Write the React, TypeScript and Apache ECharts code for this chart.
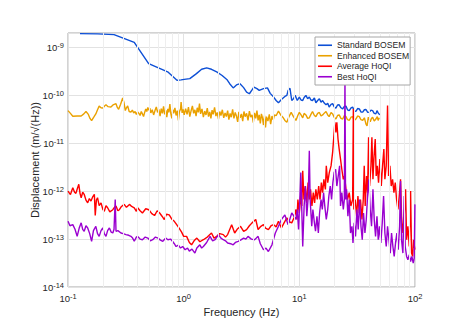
import React, { useEffect, useRef } from 'react';
import * as echarts from 'echarts';

// [frequency (Hz), displacement (m/sqrt(Hz))]
const standardBosem: [number, number][] = [
  [0.127, 1.94e-9], [0.18, 1.92e-9], [0.25, 1.85e-9], [0.374, 1.27e-9], [0.498, 4.6e-10],
  [0.727, 3.1e-10], [0.875, 2.06e-10], [0.95, 2.1e-10], [1.01, 2.15e-10], [1.13, 2.23e-10],
  [1.29, 2.84e-10], [1.43, 3.5e-10], [1.58, 3.74e-10], [1.74, 3.5e-10], [1.93, 3.1e-10],
  [2.15, 2.6e-10], [2.36, 2.15e-10], [2.5, 1.75e-10], [2.68, 1.43e-10], [2.86, 1.65e-10],
  [3.07, 1.75e-10], [3.3, 1.45e-10], [3.5, 1.17e-10], [3.7, 1.08e-10], [3.9, 1.3e-10],
  [4.05, 1.49e-10], [4.3, 1.38e-10], [4.5, 1.27e-10], [4.9, 1.38e-10], [5.3, 1.43e-10],
  [5.6, 1.1e-10], [6.0, 9.2e-11], [6.3, 7.8e-11], [6.6, 7.0e-11], [7.0, 8.2e-11],
  [7.5, 9.5e-11], [7.8, 1.0e-10], [8.0, 1.27e-10], [8.3, 1.4e-10], [8.6, 7.8e-11],
  [8.9, 8.5e-11], [9.2, 1.0e-10], [9.6, 7.8e-11], [10.0, 9.2e-11], [10.35, 8.0e-11],
  [10.7, 7.8e-11], [11.0, 9.0e-11], [11.4, 9.96e-11], [11.8, 8.5e-11], [12.2, 9.2e-11],
  [12.6, 8.0e-11], [13.0, 7.8e-11], [13.5, 8.8e-11], [13.9, 7.0e-11], [14.4, 7.8e-11],
  [14.9, 8.5e-11], [15.4, 7.2e-11], [15.9, 7.8e-11], [16.5, 6.8e-11], [17.0, 6.35e-11],
  [17.6, 6.8e-11], [18.1, 5.7e-11], [18.8, 6.5e-11], [19.4, 6.7e-11], [20.0, 5.8e-11],
  [20.7, 5.4e-11], [21.4, 6.3e-11], [22.1, 6.35e-11], [22.9, 5.5e-11], [23.7, 5.2e-11],
  [24.5, 5.9e-11], [25.3, 5.96e-11], [26.1, 5.0e-11], [27.0, 4.8e-11], [28.0, 5.5e-11],
  [28.9, 5.7e-11], [29.8, 4.8e-11], [30.8, 4.6e-11], [31.9, 5.3e-11], [33.0, 5.2e-11],
  [34.1, 4.5e-11], [35.3, 4.46e-11], [36.5, 5.0e-11], [37.7, 5.06e-11], [39.0, 4.4e-11],
  [40.2, 4.46e-11], [41.6, 4.9e-11], [43.0, 4.8e-11], [44.4, 4.2e-11], [45.9, 4.1e-11],
  [46.9, 4.8e-11], [48.0, 4.3e-11], [49.6, 3.9e-11],
];

const enhancedBosem: [number, number][] = [
  [0.1, 4.8e-11], [0.105, 4.2e-11], [0.11, 3.67e-11], [0.12, 3.7e-11], [0.13, 3.7e-11],
  [0.137, 4.1e-11], [0.143, 4.6e-11], [0.15, 4.0e-11], [0.155, 3.3e-11], [0.16, 2.97e-11],
  [0.167, 3.5e-11], [0.174, 4.1e-11], [0.18, 5.0e-11], [0.186, 5.96e-11], [0.193, 5.5e-11],
  [0.2, 5.4e-11], [0.207, 6.0e-11], [0.213, 6.35e-11], [0.222, 5.8e-11], [0.235, 5.7e-11],
  [0.245, 6.3e-11], [0.26, 6.7e-11], [0.267, 5.6e-11], [0.274, 5.1e-11], [0.285, 6.5e-11],
  [0.297, 8.8e-11], [0.305, 7.0e-11], [0.313, 4.8e-11], [0.32, 5.5e-11], [0.328, 6.0e-11],
  [0.338, 4.6e-11], [0.35, 4.45e-11], [0.36, 4.9e-11], [0.37, 4.3e-11], [0.38, 4.6e-11],
  [0.39, 4.0e-11], [0.4, 4.5e-11], [0.41, 4.2e-11], [0.42, 3.8e-11], [0.43, 4.6e-11],
  [0.44, 4.1e-11], [0.45, 3.6e-11], [0.46, 4.4e-11], [0.47, 5.2e-11], [0.48, 4.6e-11],
  [0.49, 5.6e-11], [0.5, 4.9e-11], [0.51, 5.4e-11], [0.52, 4.3e-11], [0.535, 5.0e-11],
  [0.55, 3.9e-11], [0.565, 4.8e-11], [0.58, 5.7e-11], [0.595, 4.4e-11], [0.61, 5.1e-11],
  [0.625, 3.7e-11], [0.64, 5.3e-11], [0.655, 4.2e-11], [0.67, 5.9e-11], [0.685, 4.0e-11],
  [0.7, 4.9e-11], [0.715, 3.5e-11], [0.73, 5.2e-11], [0.745, 4.4e-11], [0.76, 6.6e-11],
  [0.775, 4.1e-11], [0.79, 3.3e-11], [0.805, 5.0e-11], [0.82, 4.2e-11], [0.84, 5.5e-11],
  [0.86, 3.8e-11], [0.88, 4.8e-11], [0.9, 3.0e-11], [0.92, 4.6e-11], [0.94, 5.2e-11],
  [0.95, 7.2e-11], [0.97, 4.3e-11], [0.99, 5.1e-11], [1.01, 3.9e-11], [1.04, 5.3e-11],
  [1.07, 4.0e-11], [1.1, 5.7e-11], [1.13, 3.6e-11], [1.16, 4.8e-11], [1.19, 6.0e-11],
  [1.22, 4.2e-11], [1.25, 5.0e-11], [1.28, 3.7e-11], [1.31, 5.5e-11], [1.34, 4.4e-11],
  [1.37, 6.7e-11], [1.4, 4.1e-11], [1.44, 5.2e-11], [1.48, 3.5e-11], [1.52, 4.7e-11],
  [1.56, 3.9e-11], [1.6, 5.4e-11], [1.64, 3.6e-11], [1.68, 4.5e-11], [1.72, 3.3e-11],
  [1.76, 4.9e-11], [1.8, 4.0e-11], [1.85, 5.6e-11], [1.9, 3.7e-11], [1.95, 4.4e-11],
  [2.0, 3.2e-11], [2.05, 4.6e-11], [2.1, 3.8e-11], [2.16, 5.0e-11], [2.22, 3.4e-11],
  [2.28, 4.3e-11], [2.34, 3.6e-11], [2.4, 4.8e-11], [2.46, 3.1e-11], [2.52, 4.2e-11],
  [2.58, 3.5e-11], [2.65, 5.1e-11], [2.72, 3.3e-11], [2.79, 4.4e-11], [2.86, 3.7e-11],
  [2.93, 2.8e-11], [3.0, 4.5e-11], [3.08, 3.4e-11], [3.16, 4.1e-11], [3.24, 2.9e-11],
  [3.32, 4.6e-11], [3.4, 3.6e-11], [3.5, 4.2e-11], [3.6, 3.0e-11], [3.7, 4.7e-11],
  [3.8, 3.5e-11], [3.9, 3.9e-11], [4.0, 2.7e-11], [4.1, 4.3e-11], [4.2, 3.3e-11],
  [4.3, 4.8e-11], [4.4, 3.0e-11], [4.5, 3.9e-11], [4.6, 2.6e-11], [4.7, 4.1e-11],
  [4.8, 3.4e-11], [4.9, 2.4e-11], [5.0, 3.8e-11], [5.1, 2.15e-11], [5.2, 3.6e-11],
  [5.35, 2.9e-11], [5.5, 4.0e-11], [5.65, 2.5e-11], [5.8, 3.7e-11], [5.95, 3.1e-11],
  [6.1, 3.9e-11], [6.3, 3.75e-11], [6.6, 4.7e-11], [6.9, 3.9e-11], [7.2, 3.5e-11],
  [7.5, 3.0e-11], [7.8, 2.75e-11], [8.1, 3.5e-11], [8.5, 4.4e-11], [8.9, 3.6e-11],
  [9.35, 3.0e-11], [9.7, 3.8e-11], [10.0, 4.4e-11], [10.35, 3.9e-11], [10.7, 3.4e-11],
  [11.0, 4.2e-11], [11.4, 3.9e-11], [11.8, 3.3e-11], [12.2, 3.4e-11], [12.6, 4.0e-11],
  [13.0, 4.6e-11], [13.5, 3.8e-11], [13.9, 3.6e-11], [14.4, 4.2e-11], [14.9, 4.4e-11],
  [15.4, 3.7e-11], [15.9, 3.9e-11], [16.5, 4.3e-11], [17.0, 4.6e-11], [17.6, 3.9e-11],
  [18.1, 3.6e-11], [18.8, 4.4e-11], [19.4, 4.1e-11], [20.0, 3.5e-11], [20.7, 3.2e-11],
  [21.4, 3.8e-11], [22.1, 3.9e-11], [22.9, 3.3e-11], [23.7, 3.2e-11], [24.5, 3.8e-11],
  [25.3, 3.6e-11], [26.1, 3.1e-11], [27.0, 3.0e-11], [28.0, 3.5e-11], [28.9, 3.6e-11],
  [29.8, 3.0e-11], [30.8, 3.2e-11], [31.9, 3.7e-11], [33.0, 3.6e-11], [34.1, 3.1e-11],
  [35.3, 3.0e-11], [36.5, 3.4e-11], [37.7, 2.5e-11], [38.5, 2.3e-11], [39.5, 3.5e-11],
  [41.0, 2.8e-11], [42.0, 3.3e-11], [43.0, 3.5e-11], [44.4, 2.9e-11], [45.9, 3.2e-11],
  [47.2, 3.6e-11], [48.0, 3.0e-11], [49.1, 3.4e-11],
];

const averageHoQI: [number, number][] = [
  [0.1, 1.0e-12], [0.105, 8.5e-13], [0.11, 1.18e-12], [0.114, 9.5e-13], [0.117, 9.0e-13],
  [0.12, 1.1e-12], [0.124, 1.39e-12], [0.127, 9.0e-13], [0.13, 7.3e-13], [0.134, 9.5e-13],
  [0.138, 8.6e-13], [0.143, 6.5e-13], [0.148, 5.7e-13], [0.153, 7.0e-13], [0.158, 6.2e-13],
  [0.163, 7.5e-13], [0.169, 8.6e-13], [0.172, 3.1e-13], [0.176, 6.5e-13], [0.18, 7.3e-13],
  [0.186, 5.0e-13], [0.193, 5.7e-13], [0.2, 4.2e-13], [0.206, 3.8e-13], [0.213, 5.0e-13],
  [0.22, 4.5e-13], [0.23, 3.7e-13], [0.244, 4.1e-13], [0.252, 4.6e-13], [0.26, 4.9e-13],
  [0.27, 3.9e-13], [0.278, 4.1e-13], [0.29, 4.8e-13], [0.306, 5.3e-13], [0.32, 4.6e-13],
  [0.34, 5.3e-13], [0.355, 4.8e-13], [0.374, 4.5e-13], [0.39, 3.8e-13], [0.4, 4.5e-13],
  [0.42, 3.9e-13], [0.44, 3.5e-13], [0.47, 4.3e-13], [0.5, 4.1e-13], [0.53, 3.4e-13],
  [0.56, 3.1e-13], [0.59, 3.9e-13], [0.62, 3.5e-13], [0.65, 3.0e-13], [0.68, 2.56e-13],
  [0.71, 3.3e-13], [0.75, 3.2e-13], [0.79, 2.6e-13], [0.83, 2.35e-13], [0.87, 2.0e-13],
  [0.91, 1.71e-13], [0.96, 1.4e-13], [1.0, 1.14e-13], [1.06, 1.14e-13], [1.12, 8.5e-14],
  [1.17, 7.6e-14], [1.23, 9.2e-14], [1.3, 1.05e-13], [1.38, 8.8e-14], [1.48, 9.7e-14],
  [1.6, 1.1e-13], [1.74, 1.34e-13], [1.83, 1.05e-13], [1.93, 1.14e-13], [2.05, 1.3e-13],
  [2.2, 1.24e-13], [2.3, 1.1e-13], [2.4, 1.24e-13], [2.6, 2.0e-13], [2.76, 1.34e-13],
  [2.9, 1.6e-13], [3.1, 1.85e-13], [3.3, 1.45e-13], [3.5, 1.58e-13], [3.7, 1.9e-13],
  [3.9, 2.18e-13], [4.2, 2.56e-13], [4.4, 1.58e-13], [4.65, 1.85e-13], [4.9, 2.0e-13],
  [5.1, 1.7e-13], [5.4, 1.58e-13], [5.7, 1.9e-13], [6.0, 2.0e-13], [6.3, 1.8e-13],
  [6.6, 2.35e-13], [7.0, 1.71e-13], [7.4, 2.2e-13], [7.8, 2.77e-13], [8.2, 2.3e-13],
  [8.6, 2.18e-13], [9.0, 2.8e-13], [9.2, 3.5e-13], [9.35, 4.15e-13], [9.53, 2.56e-13],
  [9.72, 6.7e-13], [10.0, 3.5e-13], [10.26, 7.9e-13], [10.5, 4.9e-13], [10.7, 2.65e-12],
  [10.96, 6.7e-13], [11.25, 1.28e-12], [11.6, 5.7e-13], [11.9, 1.51e-12], [12.2, 6.7e-13],
  [12.5, 1.09e-12], [12.85, 4.9e-13], [13.2, 9.3e-13], [13.55, 5.7e-13], [13.9, 1.09e-12],
  [14.3, 6.7e-13], [14.7, 1.28e-12], [15.1, 6.7e-13], [15.5, 1.51e-12], [15.9, 9.3e-13],
  [16.3, 1.77e-12], [16.8, 1.09e-12], [17.1, 3.37e-12], [17.6, 1.51e-12], [18.15, 2.44e-12],
  [18.8, 3.37e-12], [19.4, 6.43e-12], [19.9, 1.44e-11], [20.3, 2.75e-11], [20.7, 1.69e-11],
  [21.1, 2.75e-11], [21.6, 1.22e-11], [22.1, 7.55e-12], [22.7, 4.66e-12], [23.3, 2.87e-12],
  [24.0, 1.77e-12], [24.6, 2.08e-12], [25.3, 1.09e-12], [26.1, 6.7e-13], [27.0, 9.3e-13],
  [27.9, 4.9e-13], [28.9, 6.7e-13], [29.3, 5.2e-11], [29.6, 4.15e-13], [30.4, 6.7e-13],
  [31.3, 3.0e-13], [32.1, 7.9e-13], [33.0, 3.5e-13], [33.8, 6.7e-13], [34.8, 2.56e-13],
  [35.7, 6.7e-13], [36.4, 3.37e-12], [37.1, 4.9e-13], [38.1, 2.08e-12], [38.9, 9.3e-13],
  [39.7, 1.33e-11], [40.5, 1.28e-12], [41.6, 3.37e-12], [42.4, 1.33e-11], [43.3, 1.77e-12],
  [44.1, 4.66e-12], [45.3, 1.22e-11], [46.2, 2.08e-12], [47.2, 3.37e-12], [48.4, 1.51e-12],
  [49.7, 4.66e-12], [51.1, 1.28e-12], [52.4, 3.37e-12], [53.8, 7.55e-12], [54.9, 1.77e-12],
  [56.4, 3.37e-12], [57.9, 6.1e-11], [59.1, 2.08e-12], [60.7, 3.37e-12], [62.3, 1.28e-12],
  [64.0, 1.77e-12], [65.7, 9.3e-13], [67.5, 1.51e-12], [69.3, 6.7e-13], [71.2, 4.15e-13],
  [73.1, 7.9e-13], [75.0, 1.77e-12], [76.5, 3.0e-13], [78.6, 1.34e-13], [80.7, 3.0e-13],
  [82.9, 1.09e-12], [84.6, 9.7e-14], [86.8, 1.85e-13], [89.2, 7.0e-14], [91.6, 1.01e-12],
  [93.4, 5.1e-14], [95.3, 4.35e-14], [97.2, 9.7e-14], [99.8, 6.0e-14],
];

const bestHoQI: [number, number][] = [
  [0.1, 2.35e-13], [0.104, 1.9e-13], [0.11, 2.0e-13], [0.115, 1.6e-13], [0.12, 1.14e-13],
  [0.125, 1.7e-13], [0.13, 2.18e-13], [0.134, 1.6e-13], [0.138, 1.45e-13], [0.143, 1.9e-13],
  [0.148, 1.71e-13], [0.154, 1.3e-13], [0.16, 8.96e-14], [0.166, 1.5e-13], [0.174, 1.85e-13],
  [0.18, 1.3e-13], [0.186, 1.14e-13], [0.193, 1.5e-13], [0.2, 1.71e-13], [0.206, 1.3e-13],
  [0.213, 1.14e-13], [0.22, 1.5e-13], [0.228, 1.71e-13], [0.236, 1.4e-13], [0.244, 1.34e-13],
  [0.25, 1.6e-13], [0.256, 6.7e-13], [0.26, 1.45e-13], [0.27, 1.5e-13], [0.287, 1.34e-13],
  [0.3, 1.3e-13], [0.317, 1.24e-13], [0.335, 1.2e-13], [0.35, 1.14e-13], [0.362, 1.05e-13],
  [0.374, 9.0e-14], [0.39, 1.1e-13], [0.4, 1.14e-13], [0.42, 1.0e-13], [0.44, 9.7e-14],
  [0.465, 1.1e-13], [0.49, 1.05e-13], [0.515, 9.2e-14], [0.54, 9.7e-14], [0.57, 1.1e-13],
  [0.6, 1.05e-13], [0.63, 9.5e-14], [0.66, 9.0e-14], [0.7, 1.05e-13], [0.73, 9.7e-14],
  [0.77, 1.0e-13], [0.8, 9.0e-14], [0.83, 8.0e-14], [0.86, 7.0e-14], [0.9, 7.5e-14],
  [0.94, 6.5e-14], [0.98, 7.0e-14], [1.03, 6.0e-14], [1.08, 6.5e-14], [1.12, 5.6e-14],
  [1.18, 6.2e-14], [1.25, 5.1e-14], [1.3, 6.5e-14], [1.38, 7.6e-14], [1.43, 6.5e-14],
  [1.48, 7.0e-14], [1.58, 8.5e-14], [1.69, 1.14e-13], [1.78, 9.2e-14], [1.87, 9.7e-14],
  [2.0, 1.24e-13], [2.1, 1.05e-13], [2.2, 9.7e-14], [2.3, 9.2e-14], [2.4, 8.3e-14],
  [2.55, 8.0e-14], [2.68, 7.6e-14], [2.8, 8.5e-14], [2.96, 9.0e-14], [3.1, 9.5e-14],
  [3.3, 1.05e-13], [3.45, 1.0e-13], [3.6, 1.14e-13], [3.85, 1.0e-13], [4.1, 9.7e-14],
  [4.25, 1.05e-13], [4.4, 1.14e-13], [4.6, 8.0e-14], [4.9, 6.0e-14], [5.15, 6.5e-14],
  [5.4, 5.5e-14], [5.8, 7.6e-14], [6.2, 1.34e-13], [6.6, 1.85e-13], [7.0, 2.56e-13],
  [7.5, 3.2e-13], [8.0, 2.0e-13], [8.6, 3.5e-13], [9.2, 2.77e-13], [9.35, 2.56e-13],
  [9.6, 4.15e-13], [9.85, 1.58e-13], [10.1, 6.7e-13], [10.3, 2.44e-12], [10.5, 4.15e-13],
  [10.7, 7.0e-14], [11.0, 4.9e-13], [11.3, 1.28e-12], [11.6, 3.0e-13], [11.95, 7.9e-13],
  [12.2, 6.97e-12], [12.4, 6.7e-13], [12.8, 1.85e-13], [13.1, 4.15e-13], [13.5, 2.18e-13],
  [13.8, 1.46e-13], [14.2, 3.0e-13], [14.6, 1.34e-13], [14.97, 3.5e-13], [15.4, 6.7e-13],
  [15.8, 4.15e-13], [16.2, 9.3e-13], [16.6, 4.9e-13], [17.1, 2.56e-13], [17.6, 4.15e-13],
  [18.0, 7.9e-13], [18.5, 1.28e-12], [19.0, 6.7e-13], [19.5, 1.51e-12], [20.0, 2.44e-12],
  [20.6, 2.87e-12], [21.1, 1.28e-12], [21.7, 2.08e-12], [22.3, 3.37e-12], [22.7, 4.9e-13],
  [23.3, 9.3e-13], [24.0, 4.15e-13], [24.5, 6.7e-13], [24.8, 2.5e-10], [25.1, 6.7e-13],
  [25.6, 1.09e-12], [26.3, 3.0e-13], [27.0, 6.7e-13], [27.7, 1.34e-13], [28.5, 1.85e-13],
  [29.1, 8.3e-14], [29.8, 2.18e-13], [30.6, 1.14e-13], [31.5, 4.15e-13], [32.3, 1.58e-13],
  [33.2, 6.7e-13], [34.1, 1.85e-13], [35.0, 9.7e-14], [35.9, 3.5e-13], [36.9, 1.34e-13],
  [37.9, 2.56e-13], [38.9, 7.9e-13], [39.9, 1.77e-12], [41.0, 4.15e-13], [42.1, 1.85e-13],
  [43.3, 1.09e-12], [44.4, 2.56e-13], [45.6, 1.14e-13], [46.9, 3.0e-13], [48.1, 9.7e-14],
  [49.4, 1.85e-13], [50.7, 8.3e-14], [52.1, 2.18e-13], [53.5, 7.9e-13], [54.9, 1.34e-13],
  [56.4, 7.0e-14], [57.9, 1.85e-13], [59.5, 9.7e-14], [61.1, 5.1e-14], [62.7, 1.34e-13],
  [64.4, 7.0e-14], [66.1, 4.35e-14], [67.9, 8.3e-14], [69.7, 1.34e-13], [71.6, 6.0e-14],
  [73.6, 1.85e-13], [75.0, 1.63e-12], [76.5, 9.7e-14], [78.6, 5.1e-14], [80.7, 7.9e-13],
  [82.3, 7.0e-14], [84.6, 4.35e-14], [86.8, 3.7e-14], [89.2, 4.7e-14], [91.6, 3.4e-14],
  [94.0, 4.35e-14], [96.5, 3.15e-14], [98.5, 4.0e-14], [99.8, 5.3e-13],
];

const seriesNames = ['Standard BOSEM', 'Enhanced BOSEM', 'Average HoQI', 'Best HoQI'];
const seriesData = [standardBosem, enhancedBosem, averageHoQI, bestHoQI];
const seriesColors = ['#0d4fd6', '#eaa100', '#ff0000', '#9a00d0'];

const xRange = [0.1, 100];
const yRange = [1e-14, 2e-9];
const xDecades = [0.1, 1, 10];
const yDecades = [1e-14, 1e-13, 1e-12, 1e-11, 1e-10, 1e-9];
const minorSteps = [2, 3, 4, 5, 6, 7, 8, 9];

const FONT = '"Liberation Sans", Arial, Helvetica, sans-serif';
const TEXT = '#262626';

export default function App() {
  const ref = useRef<HTMLDivElement>(null);

  useEffect(() => {
    if (!ref.current) return;
    const chart = echarts.init(ref.current, null, { renderer: 'svg' });

    const expLabel = (v: number) => {
      const e = Math.log10(v);
      const r = Math.round(e);
      if (Math.abs(e - r) > 1e-6) return '';
      return '{b|10}{s|' + r + '}';
    };
    const rich = {
      b: { fontSize: 9.5, lineHeight: 11, verticalAlign: 'bottom', color: TEXT, fontFamily: FONT },
      s: { fontSize: 7.5, lineHeight: 8, verticalAlign: 'top', color: TEXT, fontFamily: FONT },
    };

    const xMinor: number[] = [];
    xDecades.forEach((d) => minorSteps.forEach((m) => xMinor.push(d * m)));
    const yMinor: number[] = [];
    yDecades.forEach((d) => minorSteps.forEach((m) => {
      const v = d * m;
      if (v < yRange[1] * 0.999) yMinor.push(v);
    }));

    const lineSeries = seriesNames.map((name, i) => ({
      name,
      type: 'line',
      data: seriesData[i],
      symbol: 'none',
      showSymbol: false,
      lineStyle: { color: seriesColors[i], width: 1.4 },
      itemStyle: { color: seriesColors[i] },
      z: 3,
      silent: true,
    }));

    chart.setOption({
      animation: false,
      backgroundColor: '#ffffff',
      textStyle: { fontFamily: FONT },
      grid: {
        left: 68, right: 53, top: 33, bottom: 44,
        show: true, borderColor: '#a6a6a6', borderWidth: 1, backgroundColor: 'transparent',
      },
      legend: {
        data: seriesNames.map((n) => ({ name: n, icon: 'rect' })),
        orient: 'vertical',
        left: 315, top: 37,
        padding: [3, 1, 3, 3],
        itemWidth: 14, itemHeight: 1.6, itemGap: 0,
        backgroundColor: '#ffffff',
        borderColor: '#a6a6a6', borderWidth: 1, borderRadius: 0,
        textStyle: { fontSize: 8.6, lineHeight: 10.5, color: TEXT, fontFamily: FONT },
        selectedMode: false,
        z: 10,
      },
      xAxis: {
        type: 'log', logBase: 10, min: xRange[0], max: xRange[1],
        name: 'Frequency (Hz)', nameLocation: 'middle', nameGap: 19,
        nameMoveOverlap: false,
        nameTextStyle: { fontSize: 11, color: TEXT, fontFamily: FONT },
        axisLine: { show: false }, axisTick: { show: false },
        axisLabel: { formatter: expLabel, rich, margin: 5, color: TEXT },
        splitLine: { show: true, lineStyle: { color: '#e2e2e2', width: 1 } },
      },
      yAxis: {
        type: 'log', logBase: 10, min: yRange[0], max: yRange[1],
        name: 'Displacement (m/\u221A(Hz))', nameLocation: 'middle', nameGap: 28,
        nameMoveOverlap: false,
        nameTextStyle: { fontSize: 11, color: TEXT, fontFamily: FONT },
        axisLine: { show: false }, axisTick: { show: false },
        axisLabel: { formatter: expLabel, rich, margin: 4, color: TEXT },
        splitLine: { show: true, lineStyle: { color: '#e2e2e2', width: 1 } },
      },
      series: [
        {
          name: 'minor-grid',
          type: 'line',
          data: [],
          silent: true,
          z: 1,
          markLine: {
            silent: true,
            symbol: ['none', 'none'],
            label: { show: false },
            lineStyle: { color: '#eeeeee', width: 1, type: 'solid' },
            emphasis: { disabled: true },
            data: [
              ...xMinor.map((v) => ({ xAxis: v })),
              ...yMinor.map((v) => ({ yAxis: v })),
            ],
          },
        },
        ...lineSeries,
      ],
    });

    return () => chart.dispose();
  }, []);

  return (
    <div
      ref={ref}
      style={{ position: 'fixed', left: 0, top: 0, width: 468, height: 331, background: '#fff' }}
    />
  );
}
